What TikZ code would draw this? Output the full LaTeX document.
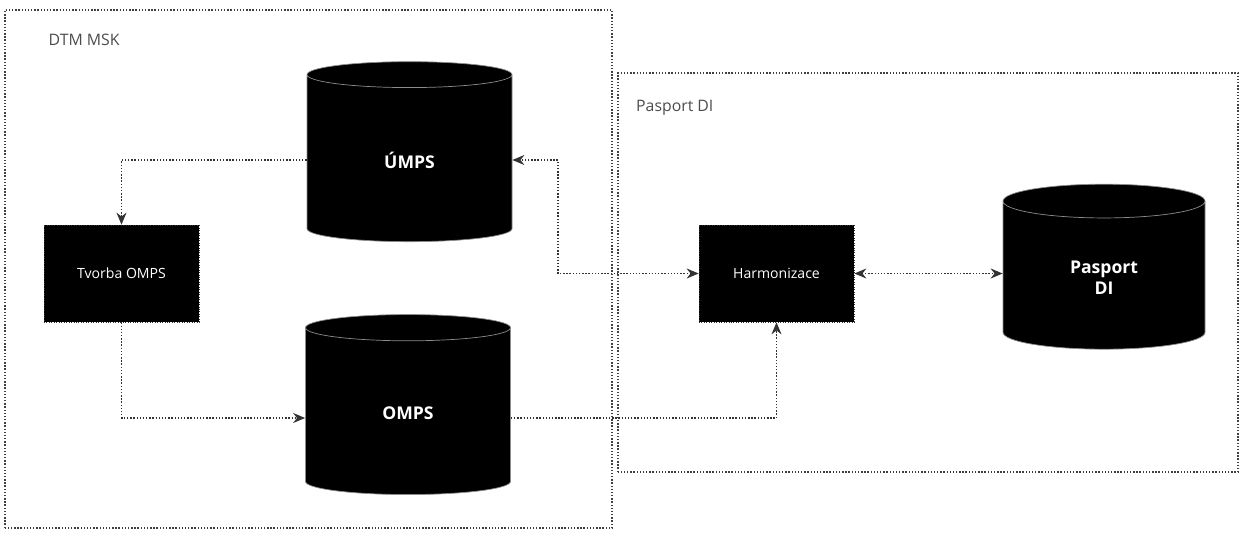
\documentclass[tikz,border=0pt]{standalone}
\usepackage{fontspec}
\setmainfont{Open Sans}
\usepackage{xcolor}
\usepackage{tikz}
\usetikzlibrary{arrows.meta,positioning,shapes.geometric,calc}

\begin{document}
\begin{tikzpicture}[
  frame/.style={draw=black!75,densely dotted,thick},
  framelabel/.style={anchor=west,text=black!70,font=\small},
  block/.style={draw=black!80,densely dotted,fill=black,text=white,font=\footnotesize,
    minimum width=3.1cm,minimum height=1.94cm,inner sep=2pt},
  db/.style={cylinder,shape border rotate=90,aspect=0.45,draw=black!45,fill=black,
    text=white,font=\bfseries,minimum width=4.1cm,minimum height=3.6cm,inner sep=2pt},
  arrow/.style={-{Stealth[length=2.4mm,width=2mm]},draw=black!80,densely dotted,thick},
  biarrow/.style={{Stealth[length=2.4mm,width=2mm]}-{Stealth[length=2.4mm,width=2mm]},draw=black!80,densely dotted,thick}
]
\useasboundingbox (0,0) rectangle (24.8,10.64);

% frames
\draw[frame] (0.1,0.08) rectangle (12.24,10.44);
\node[framelabel] (dtm) at (0.85,9.84) {DTM MSK};
\draw[frame] (12.36,1.2) rectangle (24.76,9.18);
\node[framelabel] (pdi) at (12.6,8.48) {Pasport DI};

% nodes
\node[db] (U) at (8.19,7.44) {ÚMPS};
\node[db] (O) at (8.16,2.38) {OMPS};
\node[block] (T) at (2.43,5.17) {Tvorba OMPS};
\node[block] (H) at (15.53,5.17) {Harmonizace};
\node[db,minimum height=3.3cm,minimum width=4.04cm,align=center] (P) at (22.08,5.09) {Pasport\\DI};

\coordinate (bend) at (11.16,5.2);

% connectors
\draw[arrow] (U.west) -| (T.north);
\draw[arrow] (T.south) |- ([yshift=-1mm]O.west);
\draw[arrow] ([yshift=-1mm]O.east) -| (H.south);
\draw[biarrow] (H.west) -- (H.west -| bend) |- (U.east);
\draw[biarrow] (H.east) -- (H.east -| P.west);
\end{tikzpicture}
\end{document}
